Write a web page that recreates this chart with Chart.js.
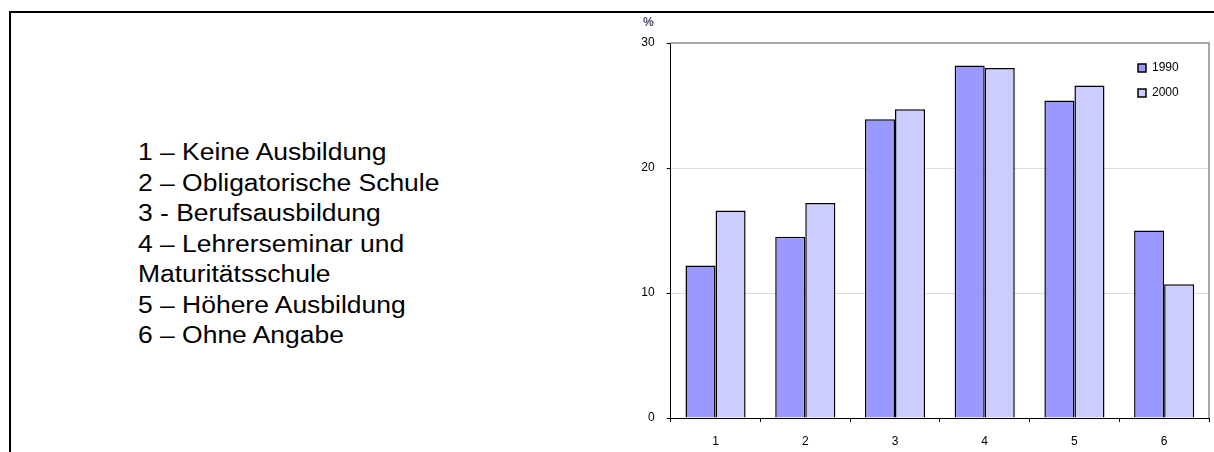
<!DOCTYPE html>
<html>
<head>
<meta charset="utf-8">
<script src="https://cdn.jsdelivr.net/npm/chart.js@4/dist/chart.umd.min.js"></script>
<style>
  html, body { margin: 0; padding: 0; background: #fff; }
  body { width: 1214px; height: 452px; position: relative; overflow: hidden; font-family: "Liberation Sans", Arial, sans-serif; }
  #frame { position: absolute; left: 9px; top: 11px; width: 1300px; height: 600px; border-top: 2px solid #000; border-left: 2px solid #000; }
  #legendText { position: absolute; left: 138px; top: 137px; font-size: 23px; line-height: 30.5px; color: #000; white-space: nowrap; transform: scaleX(1.15); transform-origin: 0 0; }
  #unit { position: absolute; left: 643px; top: 15px; font-size: 12px; color: #000; }
  #c { position: absolute; left: 0; top: 0; }
</style>
</head>
<body>
<div id="frame"></div>
<div id="legendText">
  1 – Keine Ausbildung<br>
  2 – Obligatorische Schule<br>
  3 - Berufsausbildung<br>
  4 – Lehrerseminar und<br>
  Maturitätsschule<br>
  5 – Höhere Ausbildung<br>
  6 – Ohne Angabe
</div>
<div id="unit">%</div>
<canvas id="c" width="1214" height="452"></canvas>
<script>
// Bildungsstand nach Kategorie, Anteile in Prozent
const categories = ['1', '2', '3', '4', '5', '6'];
const seriesNames = ['1990', '2000'];
const values1990 = [12.2, 14.5, 23.9, 28.2, 25.4, 15.0];
const values2000 = [16.6, 17.2, 24.7, 28.0, 26.6, 10.7];
const yTicks = [0, 10, 20, 30];

const FONT = { family: '"Liberation Sans", Arial, sans-serif', size: 12 };

// grey frame along the top and right side of the plot area
const plotFrame = {
  id: 'plotFrame',
  beforeDatasetsDraw(chart) {
    const { ctx, chartArea: a } = chart;
    ctx.save();
    ctx.strokeStyle = '#a6a6a6';
    ctx.lineWidth = 2;
    ctx.beginPath();
    ctx.moveTo(a.left, a.top);
    ctx.lineTo(a.right, a.top);
    ctx.lineTo(a.right, a.bottom);
    ctx.stroke();
    ctx.restore();
  }
};

// place the legend in the upper right corner of the plot area
const legendCorner = {
  id: 'legendCorner',
  afterLayout(chart) {
    const lg = chart.legend;
    if (!lg) return;
    const w = lg.width, h = lg.height;
    lg.left = 1125; lg.right = lg.left + w;
    lg.top = 49; lg.bottom = lg.top + h;
  }
};

new Chart(document.getElementById('c'), {
  type: 'bar',
  data: {
    labels: categories,
    datasets: [
      { label: seriesNames[0], data: values1990, backgroundColor: '#9999ff', borderColor: '#000', borderWidth: 1.5 },
      { label: seriesNames[1], data: values2000, backgroundColor: '#ccccff', borderColor: '#000', borderWidth: 1.5 }
    ]
  },
  options: {
    responsive: false,
    animation: false,
    devicePixelRatio: 1,
    layout: { padding: { left: 600, top: 43, right: 5, bottom: 0 } },
    datasets: { bar: { categoryPercentage: 0.67, barPercentage: 1.0 } },
    plugins: {
      legend: {
        position: 'chartArea',
        align: 'start',
        labels: { boxWidth: 8, boxHeight: 8, padding: 13, color: '#000', font: FONT }
      },
      tooltip: { enabled: false }
    },
    scales: {
      x: {
        afterFit(s) { s.height = 34; },
        grid: { offset: true, drawOnChartArea: false, drawTicks: true, tickLength: 4, tickColor: '#000', color: '#000' },
        border: { display: true, color: '#000', width: 1 },
        ticks: { color: '#000', font: FONT, padding: 12 }
      },
      y: {
        min: 0, max: 30,
        afterFit(s) { s.width = 70.7; },
        afterBuildTicks(s) { s.ticks = yTicks.map(v => ({ value: v })); },
        grid: {
          drawTicks: true, tickLength: 4, tickColor: '#000',
          color: ctx => (ctx.tick && (ctx.tick.value === 10 || ctx.tick.value === 20)) ? '#dcdcdc' : 'rgba(0,0,0,0)',
          lineWidth: 1
        },
        border: { display: true, color: '#000', width: 1 },
        ticks: { color: '#000', font: FONT, padding: 12 }
      }
    }
  },
  plugins: [plotFrame, legendCorner]
});
</script>
</body>
</html>
